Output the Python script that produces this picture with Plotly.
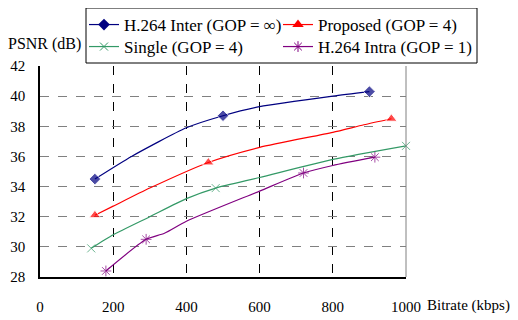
import plotly.graph_objects as go

# Data (bitrate kbps, PSNR dB); marker flags indicate plotted markers
inter_x = [150, 250, 400, 500, 600, 800, 900]
inter_y = [34.5, 36.0, 37.9, 38.7, 39.3, 40.0, 40.3]
inter_m = [1, 0, 0, 1, 0, 0, 1]

prop_x = [150, 200, 300, 460, 600, 800, 885, 960]
prop_y = [32.1, 32.7, 33.9, 35.6, 36.6, 37.6, 38.1, 38.5]
prop_m = [1, 0, 0, 1, 0, 0, 0, 1]

single_x = [140, 200, 300, 400, 480, 600, 800, 1000]
single_y = [29.9, 30.8, 32.0, 33.2, 33.9, 34.6, 35.8, 36.7]
single_m = [1, 0, 0, 0, 1, 0, 0, 1]

intra_x = [180, 290, 340, 400, 600, 720, 800, 915]
intra_y = [28.4, 30.5, 30.9, 31.7, 33.7, 34.9, 35.4, 35.95]
intra_m = [1, 1, 0, 0, 0, 1, 0, 1]

x_ticks = [0, 200, 400, 600, 800, 1000]
y_ticks = [28, 30, 32, 34, 36, 38, 40, 42]

FONT = "Liberation Serif"

fig = go.Figure()

def add(name, xs, ys, ms, color, symbol, size, legend_id, open_sym=False):
    sizes = [size if m else 0 for m in ms]
    marker = dict(symbol=symbol, size=sizes, color=color)
    leg_marker = dict(symbol=symbol, size=size, color=color)
    if open_sym:
        marker["line"] = dict(color=color, width=1)
        leg_marker["line"] = dict(color=color, width=1)
    line = dict(color=color, width=1.2, shape="spline", smoothing=0.6)
    fig.add_trace(go.Scatter(
        x=xs, y=ys, name=name, mode="lines+markers",
        line=line, marker=marker, showlegend=False, cliponaxis=False,
    ))
    fig.add_trace(go.Scatter(
        x=[None], y=[None], name=name, mode="lines+markers",
        line=dict(color=color, width=1.2), marker=leg_marker,
        showlegend=True, legend=legend_id,
    ))

add("H.264 Inter (GOP = ∞)", inter_x, inter_y, inter_m, "#000080", "diamond", 9, "legend")
add("Proposed (GOP = 4)", prop_x, prop_y, prop_m, "#FF0000", "triangle-up", 10, "legend2")
add("Single (GOP = 4)", single_x, single_y, single_m, "#339966", "x-thin", 8, "legend3", True)
add("H.264 Intra (GOP = 1)", intra_x, intra_y, intra_m, "#800080", "asterisk", 9, "legend4", True)

# page body has an 8px margin; plot area on screen: x 40..406 px, y 66..277 px
def px(X):
    return (X - 40) / 366.0

def py(Y):
    return (277 - Y) / 211.0

leg_font = dict(family=FONT, size=17, color="black")

def leg(X, Y):
    return dict(x=px(X), y=py(Y), xanchor="left", yanchor="middle",
                bgcolor="rgba(0,0,0,0)", borderwidth=0, font=leg_font,
                itemwidth=30)

fig.update_layout(
    width=510, height=312,
    margin=dict(l=32, r=112, t=58, b=43, autoexpand=False),
    paper_bgcolor="white", plot_bgcolor="white",
    font=dict(family=FONT, size=15, color="black"),
    showlegend=True,
    legend=leg(84, 25),
    legend2=leg(278, 25),
    legend3=leg(84, 47),
    legend4=leg(278, 47),
    xaxis=dict(
        range=[0, 1000], tickvals=x_ticks, ticktext=[str(v) for v in x_ticks],
        showline=True, linecolor="black", linewidth=1.5,
        showgrid=True, gridcolor="black", griddash="dash", gridwidth=1,
        ticks="outside", ticklen=15, tickcolor="rgba(0,0,0,0)",
        zeroline=False, automargin=False, tickfont=dict(family=FONT, size=15),
    ),
    yaxis=dict(
        range=[28, 42], tickvals=y_ticks, ticktext=[str(v) for v in y_ticks],
        showline=True, linecolor="black", linewidth=1.5,
        showgrid=True, gridcolor="#808080", griddash="dash", gridwidth=1.2,
        ticks="outside", ticklen=10, tickcolor="rgba(0,0,0,0)",
        zeroline=False, automargin=False, tickfont=dict(family=FONT, size=15),
    ),
    shapes=[
        dict(type="line", xref="x domain", yref="y domain", x0=1, x1=1, y0=0, y1=1,
             line=dict(color="#808080", width=1)),
        dict(type="rect", xref="paper", yref="paper",
             x0=px(86), x1=px(477), y0=py(63), y1=py(8),
             line=dict(color="black", width=1), fillcolor="rgba(0,0,0,0)"),
    ],
    annotations=[
        dict(text="PSNR (dB)", xref="paper", yref="paper", x=px(6), y=py(44),
             xanchor="left", yanchor="middle", showarrow=False,
             font=dict(family=FONT, size=16)),
        dict(text="Bitrate (kbps)", xref="paper", yref="paper", x=px(425), y=py(305),
             xanchor="left", yanchor="middle", showarrow=False,
             font=dict(family=FONT, size=15)),
    ],
)

fig.write_html("out.html")
